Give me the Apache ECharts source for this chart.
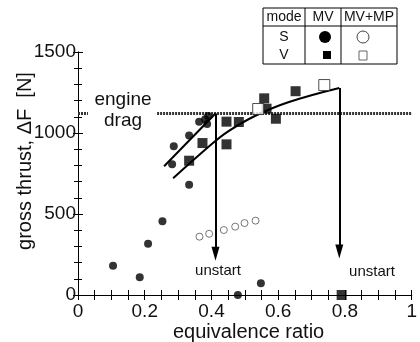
<!DOCTYPE html>
<html>
<head>
<meta charset="utf-8">
<script src="https://cdn.jsdelivr.net/npm/echarts@6/dist/echarts.min.js"></script>
<style>
html,body{margin:0;padding:0;background:#fff;}
#chart{width:420px;height:342px;}
</style>
</head>
<body>
<div id="chart"></div>
<script>
// ---- data ----
// Mode S, MV (filled circles)
const sPhi    = [0.105, 0.185, 0.21, 0.253, 0.282, 0.287, 0.333, 0.333, 0.363, 0.381, 0.387, 0.39, 0.479, 0.548];
const sThrust = [180,   110,   317,  455,   807,   918,   680,   984,   1070,  1085,  1055,  1105, 0,     72];
// Mode V, MV (filled squares)
const vPhi    = [0.333, 0.373, 0.445, 0.445, 0.482, 0.558, 0.565, 0.593, 0.652, 0.79];
const vThrust = [829,   938,   930,   1070,  1068,  1214,  1150,  1088,  1258,  0];
// Mode S, MV+MP (open circles)
const spPhi    = [0.364, 0.393, 0.437, 0.471, 0.499, 0.532];
const spThrust = [360,   378,   401,   422,   444,   459];
// Mode V, MV+MP (open squares)
const vpPhi    = [0.54, 0.738];
const vpThrust = [1148, 1296];
// fitted curves
const fitSPhi    = [0.258, 0.412];
const fitSThrust = [795,   1120];
const fitVPhi    = [0.285, 0.40, 0.45, 0.53, 0.63, 0.783];
const fitVThrust = [720,   930,  1010, 1105, 1190, 1278];
// unstart arrows
const arrowPhi = [0.412, 0.783];
const arrowTop = [1120, 1278];
const arrowEnd = [255, 268];
// engine drag level
const engineDrag = 1120;
const dragSegments = [[0, 0.03], [0.237, 1]];
// axis ticks
const xTicks = [0, 0.2, 0.4, 0.6, 0.8, 1];
const yTicks = [0, 500, 1000, 1500];

const zip = (a, b) => a.map((v, i) => [v, b[i]]);
const FONT = 'Liberation Sans';

const chart = echarts.init(document.getElementById('chart'), null, {renderer: 'canvas'});

const dragData = [];
dragSegments.forEach((s, i) => {
  if (i > 0) dragData.push('-');
  dragData.push([s[0], engineDrag], [s[1], engineDrag]);
});

const axisCommon = {
  axisLine: {lineStyle: {color: '#000', width: 1}},
  splitLine: {show: false}
};

chart.setOption({
  animation: false,
  backgroundColor: '#fff',
  grid: {left: 78, right: 4, top: 52, bottom: 47},
  xAxis: [
    Object.assign({}, axisCommon, {
      type: 'value', min: xTicks[0], max: xTicks[xTicks.length - 1], interval: 0.2,
      axisTick: {inside: true, length: 5, lineStyle: {color: '#000'}},
      minorTick: {show: true, splitNumber: 4, length: 5, lineStyle: {color: '#000'}},
      axisLabel: {color: '#111', fontFamily: FONT, fontSize: 19, margin: 7,
        formatter: v => String(+v.toFixed(1))}
    }),
    Object.assign({}, axisCommon, {
      type: 'value', position: 'top', min: 0, max: 1, interval: 0.2,
      axisTick: {inside: true, length: 5, lineStyle: {color: '#000'}},
      minorTick: {show: true, splitNumber: 4, length: 5, lineStyle: {color: '#000'}},
      axisLabel: {show: false}
    })
  ],
  yAxis: [
    Object.assign({}, axisCommon, {
      type: 'value', min: yTicks[0], max: yTicks[yTicks.length - 1], interval: 500,
      axisTick: {inside: true, length: 5, lineStyle: {color: '#000'}},
      minorTick: {show: true, splitNumber: 5, length: 4, lineStyle: {color: '#000'}},
      axisLabel: {color: '#111', fontFamily: FONT, fontSize: 19, margin: 2,
        formatter: v => String(v)}
    }),
    Object.assign({}, axisCommon, {
      type: 'value', position: 'right', min: 0, max: 1500, interval: 500,
      axisTick: {inside: true, length: 5, lineStyle: {color: '#000'}},
      minorTick: {show: true, splitNumber: 5, length: 4, lineStyle: {color: '#000'}},
      axisLabel: {show: false}
    })
  ],
  series: [
    {
      type: 'line', data: dragData, showSymbol: false, symbol: 'none', connectNulls: false,
      lineStyle: {color: '#333', width: 3, type: [2, 1]}, z: 1, silent: true
    },
    {
      type: 'line', data: zip(fitSPhi, fitSThrust), symbol: 'none',
      lineStyle: {color: '#000', width: 2}, z: 3
    },
    {
      type: 'line', data: zip(fitVPhi, fitVThrust), symbol: 'none', smooth: 0.4,
      lineStyle: {color: '#000', width: 2}, z: 3,
      markLine: {
        silent: true, symbol: ['none', 'triangle'], symbolSize: [8, 14],
        label: {show: false},
        lineStyle: {color: '#000', width: 2, type: 'solid'},
        data: arrowPhi.map((p, i) => [{coord: [p, arrowTop[i]]}, {coord: [p, arrowEnd[i]]}])
      }
    },
    {
      type: 'scatter', data: zip(sPhi, sThrust), symbol: 'circle', symbolSize: 8,
      itemStyle: {color: '#000'}, z: 4
    },
    {
      type: 'scatter', data: zip(vPhi, vThrust), symbol: 'rect', symbolSize: 10,
      itemStyle: {color: '#000'}, z: 4
    },
    {
      type: 'scatter', data: zip(spPhi, spThrust), symbol: 'circle', symbolSize: 7,
      itemStyle: {color: '#fff', borderColor: '#555', borderWidth: 1}, z: 4
    },
    {
      type: 'scatter', data: zip(vpPhi, vpThrust), symbol: 'rect', symbolSize: 11,
      itemStyle: {color: '#fff', borderColor: '#222', borderWidth: 1}, z: 5
    }
  ],
  graphic: [
    {type: 'text', left: 173, top: 322, style: {text: 'equivalence ratio', font: '20px "Liberation Sans"', fill: '#111'}},
    {type: 'text', x: 25, y: 161, rotation: Math.PI / 2, originX: 0, originY: 0,
      style: {text: 'gross thrust, ΔF  [N]', font: '20px "Liberation Sans"', fill: '#111', align: 'center', verticalAlign: 'middle'}},
    {type: 'text', x: 123, y: 100, style: {text: 'engine', font: '19px "Liberation Sans"', fill: '#111', align: 'center', verticalAlign: 'middle'}, z: 10},
    {type: 'text', x: 123, y: 121, style: {text: 'drag', font: '19px "Liberation Sans"', fill: '#111', align: 'center', verticalAlign: 'middle'}, z: 10},
    {type: 'text', x: 218, y: 271, style: {text: 'unstart', font: '15px "Liberation Sans"', fill: '#111', align: 'center', verticalAlign: 'middle'}, z: 10},
    {type: 'text', x: 372, y: 272, style: {text: 'unstart', font: '15px "Liberation Sans"', fill: '#111', align: 'center', verticalAlign: 'middle'}, z: 10},
    // legend table
    {type: 'group', z: 100, children: [
      {type: 'rect', shape: {x: 263, y: 8, width: 134, height: 56}, style: {fill: '#fff', stroke: '#000', lineWidth: 1}},
      {type: 'line', shape: {x1: 263, y1: 26, x2: 397, y2: 26}, style: {stroke: '#000', lineWidth: 1}},
      {type: 'line', shape: {x1: 305, y1: 8, x2: 305, y2: 64}, style: {stroke: '#000', lineWidth: 1}},
      {type: 'line', shape: {x1: 341, y1: 8, x2: 341, y2: 64}, style: {stroke: '#000', lineWidth: 1}},
      {type: 'text', x: 284, y: 17, style: {text: 'mode', font: '14px "Liberation Sans"', fill: '#111', align: 'center', verticalAlign: 'middle'}},
      {type: 'text', x: 323, y: 17, style: {text: 'MV', font: '14px "Liberation Sans"', fill: '#111', align: 'center', verticalAlign: 'middle'}},
      {type: 'text', x: 369, y: 17, style: {text: 'MV+MP', font: '14px "Liberation Sans"', fill: '#111', align: 'center', verticalAlign: 'middle'}},
      {type: 'text', x: 284, y: 37, style: {text: 'S', font: '14px "Liberation Sans"', fill: '#111', align: 'center', verticalAlign: 'middle'}},
      {type: 'text', x: 284, y: 55, style: {text: 'V', font: '14px "Liberation Sans"', fill: '#111', align: 'center', verticalAlign: 'middle'}},
      {type: 'circle', shape: {cx: 325, cy: 37, r: 6}, style: {fill: '#000'}},
      {type: 'rect', shape: {x: 323, y: 51, width: 8, height: 8}, style: {fill: '#000'}},
      {type: 'circle', shape: {cx: 363, cy: 37, r: 6}, style: {fill: '#fff', stroke: '#444', lineWidth: 1}},
      {type: 'rect', shape: {x: 359, y: 51, width: 8, height: 9}, style: {fill: '#fff', stroke: '#666', lineWidth: 1}}
    ]}
  ]
});
</script>
</body>
</html>
